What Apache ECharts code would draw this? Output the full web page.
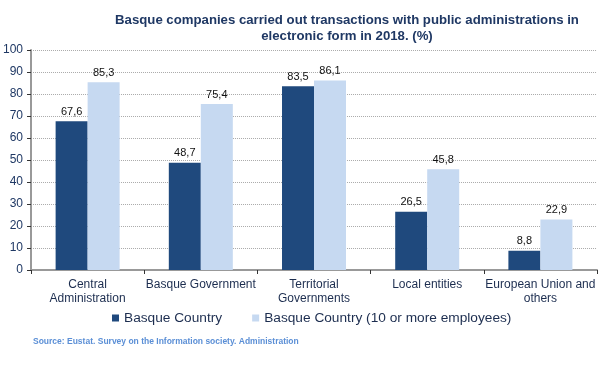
<!DOCTYPE html>
<html><head><meta charset="utf-8">
<script src="https://cdn.jsdelivr.net/npm/echarts@6/dist/echarts.min.js"></script>
<style>html,body{margin:0;padding:0;background:#fff}#c{width:605px;height:368px}</style>
</head><body><div id="c"></div>
<script>
const categories = ["Central\nAdministration","Basque Government","Territorial\nGovernments","Local entities","European Union and\nothers"];
const seriesNames = ["Basque Country","Basque Country (10 or more employees)"];
const basqueCountry = [67.6, 48.7, 83.5, 26.5, 8.8];
const basque10plus = [85.3, 75.4, 86.1, 45.8, 22.9];
const yTicks = [0,10,20,30,40,50,60,70,80,90,100];

const fmt = p => String(p.value.toFixed(1)).replace('.', ',');
const chart = echarts.init(document.getElementById('c'), null, {renderer:'canvas'});
chart.setOption({
  animation:false,
  textStyle:{fontFamily:'Liberation Sans, Arial, sans-serif'},
  title:{
    text:'Basque companies carried out transactions with public administrations in\nelectronic form in 2018. (%)',
    left:342, top:7, textAlign:'center',
    textStyle:{fontSize:13.2, fontWeight:'bold', color:'#1F3864', lineHeight:16, fontFamily:'Liberation Sans, Arial, sans-serif'}
  },
  legend:{
    data:seriesNames, top:306, left:107, itemWidth:7, itemHeight:7, itemGap:30,
    icon:'rect', textStyle:{fontSize:13.7, color:'#1C2D4F'}
  },
  graphic:[{type:'text', left:33, top:337, style:{text:'Source: Eustat. Survey on the Information society. Administration', fill:'#5B8FD6', font:'bold 8.5px Liberation Sans, Arial, sans-serif'}}],
  grid:{left:31, right:8, top:50, bottom:98},
  xAxis:{
    type:'category', data:categories,
    axisLine:{lineStyle:{color:'#999', width:2}},
    axisTick:{show:true, alignWithLabel:false, lineStyle:{color:'#333'}, length:4},
    axisLabel:{color:'#1C2D4F', fontSize:12, lineHeight:14, margin:8, interval:0}
  },
  yAxis:{
    type:'value', min:0, max:100, interval:10,
    axisLine:{show:true, lineStyle:{color:'#999', width:2}},
    axisTick:{show:true, length:4, lineStyle:{color:'#333'}},
    axisLabel:{color:'#1F3864', fontSize:12, margin:8},
    splitLine:{lineStyle:{type:'dotted', color:'#aaa'}}
  },
  series:[
    {name:seriesNames[0], type:'bar', data:basqueCountry, barWidth:32, barGap:'0%',
     itemStyle:{color:'#1F497D'},
     label:{show:true, position:'top', formatter:fmt, color:'#111', fontSize:11, distance:4}},
    {name:seriesNames[1], type:'bar', data:basque10plus, barWidth:32,
     itemStyle:{color:'#C6D9F1'},
     label:{show:true, position:'top', formatter:fmt, color:'#111', fontSize:11, distance:4}}
  ]
});
</script></body></html>
